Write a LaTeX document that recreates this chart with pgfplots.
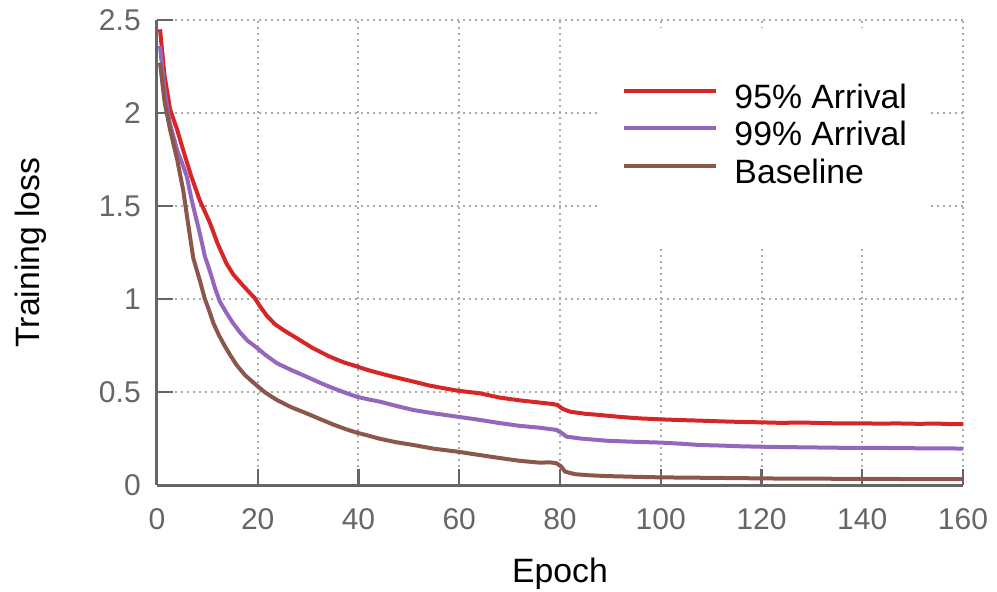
\documentclass[border=0pt]{standalone}
\usepackage{fontspec}
\setmainfont{Liberation Sans}
\usepackage{pgfplots}
\pgfplotsset{compat=1.18}

\definecolor{cred}{HTML}{D62728}
\definecolor{cpurple}{HTML}{9467BD}
\definecolor{cbrown}{HTML}{8C564B}
\definecolor{axgray}{HTML}{666666}
\definecolor{gridgray}{HTML}{AAAAAA}

\begin{document}
\begin{tikzpicture}
% page = 997x592 px at 0.4bp per px, axis box lower left at origin
\useasboundingbox (-62.8bp,-42.8bp) rectangle (336bp,194bp);
\begin{axis}[
    scale only axis, width=322.4bp, height=186bp,
    xmin=0, xmax=160, ymin=0, ymax=2.5,
    axis lines=left,
    axis line style={axgray, line width=1.2bp, -},
    xtick={0,20,...,160}, ytick={0,0.5,1,1.5,2,2.5},
    yticklabels={0,0.5,1,1.5,2,2.5},
    tick align=inside, major tick length=6.5bp,
    tick style={axgray, line width=0.9bp},
    grid=major,
    grid style={gridgray, line width=0.8bp, dash pattern=on 0.8bp off 1.6bp},
    /pgf/number format/assume math mode=true,
    ticklabel style={font=\fontsize{12bp}{14bp}\selectfont, text=axgray},
    xticklabel style={yshift=-6bp},
    yticklabel style={xshift=-3bp},
    xlabel={Epoch}, ylabel={Training loss},
    every axis x label/.style={at={(axis description cs:0.5,-0.19)}, anchor=center,
        font=\fontsize{13.5bp}{16bp}\selectfont},
    every axis y label/.style={at={(axis description cs:-0.157,0.5)}, rotate=90, anchor=center,
        font=\fontsize{13.5bp}{16bp}\selectfont},
    legend style={at={(rel axis cs:0.549,0.983)}, anchor=north west,
        draw=none, fill=white, font=\fontsize{13.5bp}{16bp}\selectfont,
        inner xsep=9bp, inner ysep=22bp, row sep=2bp,
        nodes={inner sep=0bp, text height=10bp, text depth=3bp},
        column sep=6.4bp},
    legend cell align=left,
    legend image code/.code={\draw[#1, line width=1.6bp] (0bp,3.5bp) -- (36.8bp,3.5bp);},
    every axis plot/.append style={line width=1.6bp, line join=round, mark=none},
    clip=false,
]
\addplot[cred] coordinates {
(0.6,2.45) (1.5,2.2) (2.6,2.02) (4,1.91) (5.2,1.80) (6.8,1.66) (8.5,1.53)
(9.5,1.47) (10.5,1.41) (12,1.30) (13.8,1.19) (15.2,1.13) (16.5,1.09)
(18,1.045) (19.4,1.005) (20.6,0.955) (21.8,0.91) (23.4,0.865) (25.1,0.833)
(28,0.785) (31,0.735) (34.3,0.69) (37,0.66) (39.6,0.638) (42,0.617)
(44.3,0.60) (47.5,0.578) (50.9,0.556) (54,0.535) (57,0.52) (59.7,0.507)
(64.1,0.493) (68,0.47) (72,0.455) (76,0.443) (78.7,0.435) (79.5,0.43)
(80.5,0.41) (82,0.394) (85,0.383) (88,0.376) (92,0.366) (95.9,0.358)
(100,0.353) (104,0.349) (107.8,0.346) (112,0.342) (116,0.339) (119.7,0.337)
(124,0.334) (128,0.336) (132,0.333) (136,0.331) (139.5,0.332) (143,0.33)
(147,0.331) (151,0.329) (155,0.33) (158,0.327) (160,0.327)
};
\addlegendentry{95\% Arrival}
\addplot[cpurple] coordinates {
(0.6,2.36) (1.5,2.12) (2.5,1.95) (4,1.80) (5,1.73) (5.9,1.66) (6.9,1.53)
(8.5,1.353) (9.5,1.23) (10.5,1.15) (11.5,1.06) (12.5,0.985) (13.8,0.925)
(15.1,0.87) (16.5,0.82) (18,0.775) (19.5,0.745) (21.5,0.70) (23.8,0.655)
(26.5,0.62) (29.7,0.582) (32.5,0.548) (35,0.52) (37.5,0.495) (39.6,0.475)
(42,0.46) (44.3,0.448) (47.5,0.425) (50.9,0.403) (55,0.385) (59.7,0.367)
(64.1,0.35) (68,0.333) (72,0.318) (76,0.308) (79.3,0.296) (80.3,0.28)
(81.3,0.26) (84,0.25) (89.3,0.238) (95,0.232) (100,0.228) (104,0.222)
(107.8,0.215) (112,0.212) (116,0.208) (119.7,0.206) (124,0.204) (130,0.202)
(136,0.2) (142,0.2) (148,0.198) (154,0.197) (160,0.196)
};
\addlegendentry{99\% Arrival}
\addplot[cbrown] coordinates {
(0.6,2.27) (1.5,2.06) (2.6,1.91) (4,1.75) (5.2,1.585) (6.2,1.40) (7.2,1.22)
(8.5,1.10) (9.5,1.00) (10.2,0.95) (11.2,0.87) (12.3,0.805) (13.5,0.745)
(14.5,0.70) (15.8,0.645) (17.5,0.59) (19.8,0.535) (21.5,0.497) (23.8,0.457)
(26.5,0.42) (29.7,0.385) (32.5,0.353) (35,0.325) (37.5,0.30) (39.6,0.282)
(42,0.265) (44.3,0.248) (47.5,0.23) (50.9,0.215) (55,0.195) (59.7,0.179)
(64.1,0.161) (68,0.145) (72,0.13) (76,0.12) (78,0.122) (79.3,0.117)
(80.2,0.1) (81,0.072) (83,0.058) (86,0.052) (89.3,0.048) (95,0.044)
(100,0.041) (107.8,0.039) (115,0.037) (122,0.035) (130,0.034) (140,0.033)
(150,0.032) (160,0.031)
};
\addlegendentry{Baseline}
\end{axis}
\end{tikzpicture}
\end{document}
